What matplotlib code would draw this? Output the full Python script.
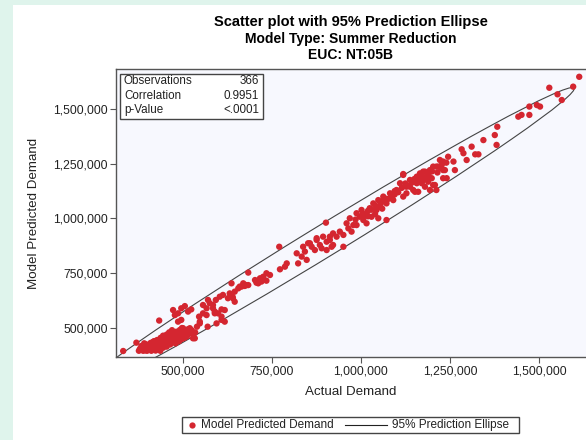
import matplotlib
matplotlib.use("Agg")
import matplotlib.pyplot as plt
from matplotlib.patches import Ellipse, Rectangle
from matplotlib.lines import Line2D
from matplotlib.ticker import FuncFormatter
import numpy as np

plt.rcParams["font.family"] = ["Liberation Sans", "DejaVu Sans"]

# values, in thousands
actual_k = [
    333, 370, 392, 377, 389, 400, 412, 424, 437,
    407, 417, 426, 435, 445, 454, 464, 450, 431, 422, 440, 459, 468, 473, 478,
    482, 487, 492, 496, 501, 506, 510, 515, 520, 524, 529, 482, 492,
    395, 405, 415, 445, 455, 465, 470, 500, 505, 512, 498, 462, 448, 436, 428,
    418, 455, 476, 485, 492, 384, 398,
    380, 395, 410, 420, 430, 440, 455, 465, 475, 480, 490, 498, 505, 512, 518,
    525, 530, 535, 455, 462, 470, 445, 438, 428, 420, 410, 400,
    434, 473, 478, 487, 496, 506, 515, 524, 487, 496,
    540, 548, 546, 557, 567, 570, 576, 585, 593, 599, 604, 613, 618, 595, 609,
    618, 609, 567, 590, 548, 534,
    627, 632, 640, 646, 656, 665, 674, 684, 707, 721, 735, 637,
    771, 684, 902, 660, 670, 679, 703, 712, 717, 726, 735, 745, 773, 787, 792,
    820, 824, 834, 843, 848, 852, 862, 871, 876, 885, 894, 904, 913, 922, 918,
    641, 646, 557, 571, 585, 590, 609,
    1119, 951, 1072, 960, 969, 979, 988, 997, 1002, 1007, 1016, 1025, 1030,
    1035, 1044, 1049, 1054, 1063, 1072, 1082, 1091, 1100, 1110, 1119, 1128,
    1138, 1152, 1157, 1166, 1171, 1180, 1185, 1194, 1194, 1208, 1217, 1231, 1231,
    838, 857, 876, 890, 904, 913, 922, 932, 941, 951, 965, 974, 988, 1016, 1049,
    1010, 1020, 1040, 1058, 1068, 1078, 1088, 1095, 1105, 1040, 985, 1060,
    1115, 1125, 1135, 1145, 1150, 1160, 1175, 1190, 1200, 1215, 1225, 1240,
    1095, 1085, 1070, 1055, 1045, 1030, 1020, 1005,
    1473, 1494, 1503, 1442, 1451, 1473, 1383, 1376, 1381, 1344, 1311, 1321,
    1330, 1283, 1288, 1297, 1260, 1264, 1245, 1231, 1222, 1227, 1236, 1241,
    1203, 1212, 1185, 1175, 1166, 1171, 1189, 1199, 1180, 1157, 1147, 1138,
    1128, 1161, 1203, 1212, 1119,
    1613, 1596, 1529, 1552, 1564,
]
predicted_k = [
    395, 433, 430, 396, 396, 396, 396, 397, 396,
    422, 437, 430, 445, 453, 460, 468, 430, 415, 407, 422, 437, 445, 460, 476,
    483, 468, 491, 479, 499, 483, 491, 494, 499, 476, 453, 445, 453,
    410, 405, 415, 410, 420, 430, 440, 470, 460, 470, 500, 452, 440, 430, 420,
    425, 445, 455, 462, 470, 418, 425,
    405, 398, 402, 412, 404, 410, 415, 425, 435, 430, 440, 450, 455, 462, 475,
    490, 470, 480, 470, 480, 490, 465, 455, 445, 440, 432, 420,
    534, 582, 559, 567, 590, 600, 575, 585, 529, 537,
    506, 529, 552, 567, 590, 506, 613, 605, 628, 567, 643, 651, 582, 521, 537,
    529, 552, 559, 575, 521, 453,
    636, 658, 643, 666, 681, 689, 692, 696, 707, 712, 716, 704,
    871, 753, 981, 689, 704, 696, 719, 704, 727, 734, 750, 742, 768, 780, 795,
    841, 795, 826, 849, 811, 887, 871, 856, 902, 879, 917, 856, 902, 932, 871,
    636, 620, 605, 628, 590, 567, 585,
    1203, 871, 993, 978, 1001, 970, 1024, 1008, 1039, 993, 1024, 1047, 1008,
    1069, 1039, 1084, 1054, 1100, 1069, 1115, 1084, 1130, 1161, 1100, 1145,
    1176, 1122, 1191, 1206, 1161, 1214, 1184, 1221, 1130, 1153, 1237, 1221, 1184,
    871, 887, 910, 864, 894, 917, 879, 917, 940, 925, 955, 940, 970, 978, 1001,
    1015, 1035, 1020, 1075, 1085, 1090, 1100, 1110, 1120, 1060, 995, 1045,
    1140, 1160, 1150, 1165, 1180, 1190, 1175, 1200, 1215, 1210, 1230, 1255,
    1125, 1105, 1090, 1065, 1050, 1040, 1010, 1020,
    1511, 1518, 1511, 1465, 1473, 1473, 1419, 1381, 1336, 1358, 1328, 1293,
    1293, 1316, 1298, 1267, 1260, 1221, 1282, 1260, 1267, 1244, 1221, 1184,
    1237, 1237, 1191, 1214, 1176, 1199, 1168, 1184, 1145, 1161, 1130, 1145,
    1115, 1122, 1153, 1130, 1199,
    1647, 1602, 1597, 1567, 1541,
]

stat_names = ["Observations", "Correlation", "p-Value"]
stat_values = ["366", "0.9951", "<.0001"]

# 95% prediction ellipse (data units)
ellipse_center = (900e3, 900e3)
ellipse_semi_major = 986e3
ellipse_semi_minor = 60e3
ellipse_angle = 44.96

x = np.array(actual_k) * 1000
y = np.array(predicted_k) * 1000

W, H = 586, 440


def fx(px):
    return px / W


def fy(py):
    return 1 - py / H


fig = plt.figure(figsize=(5.86, 4.4), dpi=100, facecolor="#dff4ec")
fig.patches.append(Rectangle((fx(13), 0), 1, fy(5), transform=fig.transFigure,
                             facecolor="white", edgecolor="none", zorder=-5))

ax = fig.add_axes([fx(116), fy(357), 470 / W, 288 / H])
ax.set_facecolor("#f7f8fe")

red = "#d42630"
ax.scatter(x, y, s=21, color=red, edgecolors="none", zorder=3)
ax.add_patch(Ellipse(ellipse_center, 2 * ellipse_semi_major, 2 * ellipse_semi_minor,
                     angle=ellipse_angle, fill=False, edgecolor="#444444", lw=0.8, zorder=2))

ax.set_xlim(312.8e3, 1632e3)
ax.set_ylim(367.6e3, 1682.6e3)
ax.set_xticks([500e3, 750e3, 1000e3, 1250e3, 1500e3])
ax.set_yticks([500e3, 750e3, 1000e3, 1250e3, 1500e3])
fmt = FuncFormatter(lambda v, p: f"{v:,.0f}")
ax.xaxis.set_major_formatter(fmt)
ax.yaxis.set_major_formatter(fmt)
ax.tick_params(direction="out", length=4, width=0.8, color="#555555",
               labelsize=8.7, labelcolor="#222222", pad=2)
for side in ["left", "bottom", "top"]:
    ax.spines[side].set_color("#555555")
    ax.spines[side].set_linewidth(1.0)
ax.spines["right"].set_visible(False)

ax.set_xlabel("Actual Demand", fontsize=9.6, color="#222222", labelpad=6)
ax.set_ylabel("Model Predicted Demand", fontsize=9.6, color="#222222")
ax.yaxis.set_label_coords(-0.162, 0.5)

# statistics box
ax.add_patch(Rectangle((0.0085, 0.826), 0.3043, 0.1566, transform=ax.transAxes,
                       facecolor="white", edgecolor="#444444", lw=1.0, zorder=4))
for i, (name, val) in enumerate(zip(stat_names, stat_values)):
    yy = 0.9566 - i * 0.0503
    ax.text(0.017, yy, name, transform=ax.transAxes, fontsize=8.4, va="center",
            ha="left", color="#222222", zorder=5)
    ax.text(0.304, yy, val, transform=ax.transAxes, fontsize=8.4, va="center",
            ha="right", color="#222222", zorder=5)

# titles
fig.text(fx(351), fy(22), "Scatter plot with 95% Prediction Ellipse",
         ha="center", va="center", fontsize=10.5, fontweight="bold")
fig.text(fx(351), fy(39), "Model Type: Summer Reduction",
         ha="center", va="center", fontsize=10, fontweight="bold")
fig.text(fx(351), fy(55), "EUC: NT:05B",
         ha="center", va="center", fontsize=10, fontweight="bold")

# legend drawn by hand to match the SAS layout
fig.patches.append(Rectangle((fx(182), fy(433)), (519 - 182) / W, 16 / H,
                             transform=fig.transFigure, facecolor="white",
                             edgecolor="#444444", lw=1.0))
fig.lines.append(Line2D([fx(191.5)], [fy(425)], transform=fig.transFigure,
                        linestyle="none", marker="o", markersize=4.5, color=red,
                        markeredgecolor="none"))
fig.text(fx(201), fy(425), "Model Predicted Demand", ha="left", va="center",
         fontsize=8.5, color="#222222")
fig.lines.append(Line2D([fx(345), fx(387)], [fy(425), fy(425)], transform=fig.transFigure,
                        color="#222222", lw=0.8))
fig.text(fx(392.5), fy(425), "95% Prediction Ellipse", ha="left", va="center",
         fontsize=8.5, color="#222222")

fig.savefig("out.png", dpi=100, facecolor=fig.get_facecolor())
